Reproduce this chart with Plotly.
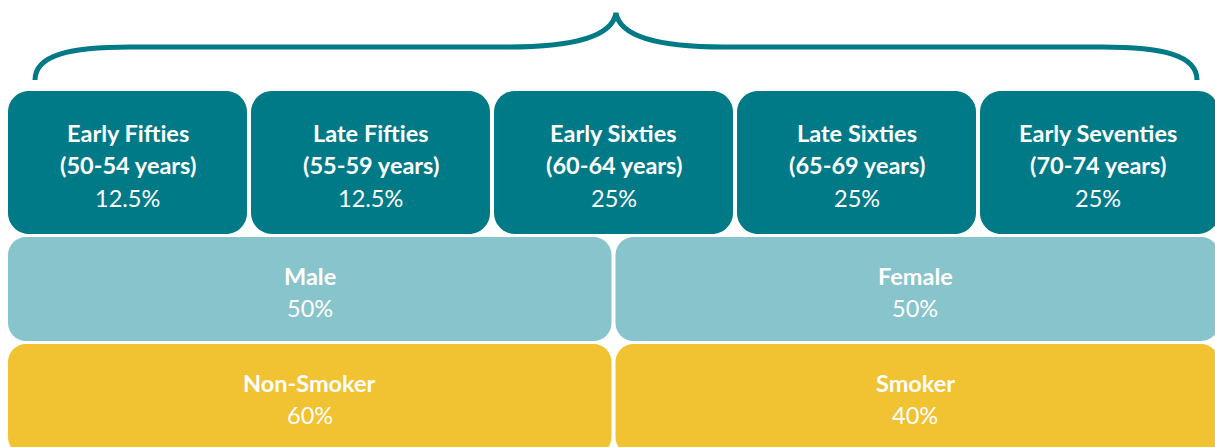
import plotly.graph_objects as go

W, H = 1215, 447

# --- data ---
age_groups = ["Early Fifties", "Late Fifties", "Early Sixties", "Late Sixties", "Early Seventies"]
age_ranges = ["(50-54 years)", "(55-59 years)", "(60-64 years)", "(65-69 years)", "(70-74 years)"]
age_shares = ["12.5%", "12.5%", "25%", "25%", "25%"]
sex_groups = ["Male", "Female"]
sex_shares = ["50%", "50%"]
smoke_groups = ["Non-Smoker", "Smoker"]
smoke_shares = ["60%", "40%"]

TEAL = "#007A87"
LIGHT = "#88C4CB"
YELLOW = "#F1C232"
FONT = "Lato"
K = 0.5523  # cubic approximation of a quarter circle


def rrect(x0, y0, x1, y1, r):
    k = r * K
    return (f"M {x0+r},{y0} L {x1-r},{y0} C {x1-r+k},{y0} {x1},{y0+r-k} {x1},{y0+r} "
            f"L {x1},{y1-r} C {x1},{y1-r+k} {x1-r+k},{y1} {x1-r},{y1} L {x0+r},{y1} "
            f"C {x0+r-k},{y1} {x0},{y1-r+k} {x0},{y1-r} L {x0},{y0+r} "
            f"C {x0},{y0+r-k} {x0+r-k},{y0} {x0+r},{y0} Z")


fig = go.Figure()
shapes = []
annotations = []

left, right, gap = 8, 1219, 4


def row(labels, subs, vals, y0, y1, color, r, lines_y):
    n = len(labels)
    w = (right - left - gap * (n - 1)) / n
    for i in range(n):
        x0 = left + i * (w + gap)
        x1 = x0 + w
        shapes.append(dict(type="path", path=rrect(x0, y0, x1, y1, r),
                           fillcolor=color, line=dict(width=0), layer="below"))
        cx = (x0 + x1) / 2 - (2 if x1 > W else 0)
        texts = [f"<b>{labels[i]}</b>"]
        if subs:
            texts.append(f"<b>{subs[i]}</b>")
        texts.append(vals[i])
        for t, yy in zip(texts, lines_y):
            annotations.append(dict(x=cx, y=yy, text=t, showarrow=False,
                                    xref="x", yref="y", xanchor="center", yanchor="middle",
                                    font=dict(family=FONT, size=23.5, color="white")))


row(age_groups, age_ranges, age_shares, 91, 234, TEAL, 21, [133, 165, 198])
row(sex_groups, None, sex_shares, 237, 341, LIGHT, 18, [276, 308])
row(smoke_groups, None, smoke_shares, 344, 455, YELLOW, 18, [383, 415])

brace = ("M 35,80 C 35,55 70,47 130,47 L 508,47 C 570,47 612,38 616,13 "
         "C 620,38 662,47 724,47 L 1102,47 C 1162,47 1197,55 1197,80")
shapes.append(dict(type="path", path=brace, line=dict(color=TEAL, width=5)))

fig.update_layout(
    width=W, height=H,
    margin=dict(l=0, r=0, t=0, b=0),
    paper_bgcolor="white", plot_bgcolor="white",
    xaxis=dict(range=[0, W], visible=False, fixedrange=True),
    yaxis=dict(range=[H, 0], visible=False, fixedrange=True),
    shapes=shapes, annotations=annotations, showlegend=False,
)
fig.write_html("out.html", config={"displayModeBar": False},
               post_script="document.body.style.margin='0';document.body.style.overflow='hidden';")
